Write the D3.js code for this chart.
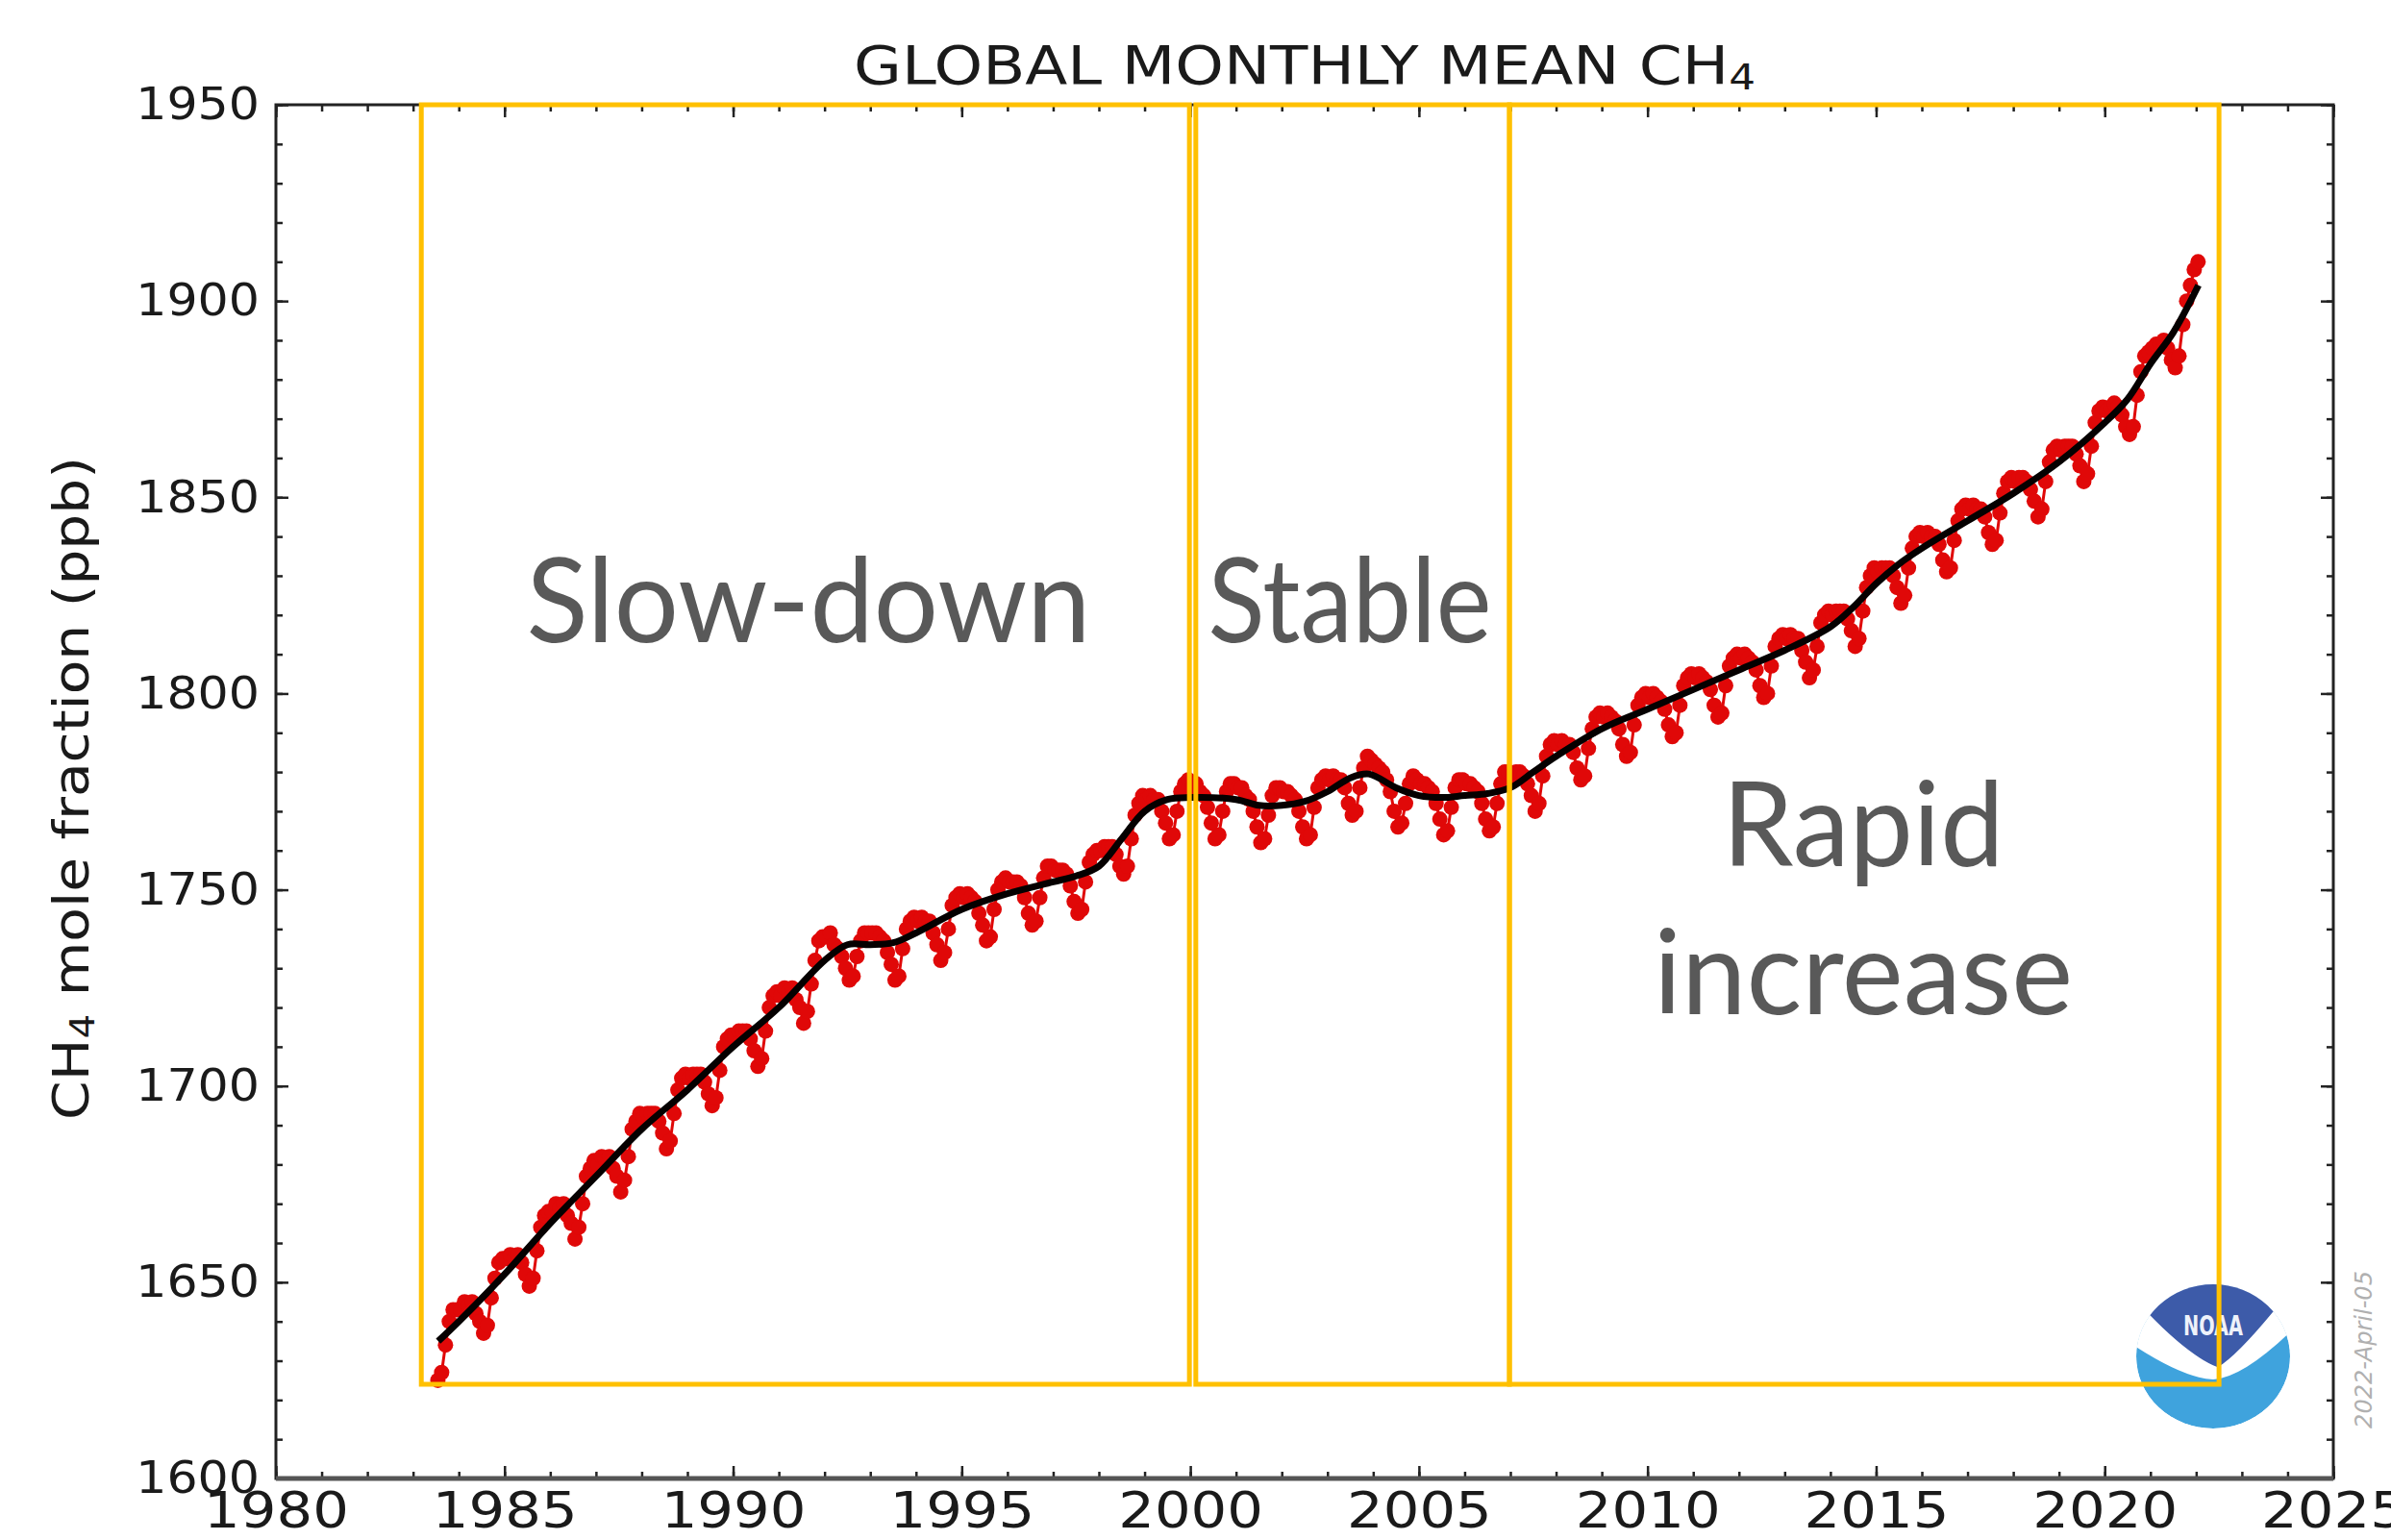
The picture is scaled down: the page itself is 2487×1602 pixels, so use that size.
<!DOCTYPE html>
<html><head><meta charset="utf-8">
<script src="https://cdn.jsdelivr.net/npm/d3@7"></script>
<style>html,body{margin:0;padding:0;background:#fff;} svg{display:block;}</style>
</head><body>
<svg id="c" width="2487" height="1602"></svg>
<script>
// ---------------- DATA ----------------
const xTickYears = [1980,1985,1990,1995,2000,2005,2010,2015,2020,2025];
const yTickValues = [1600,1650,1700,1750,1800,1850,1900,1950];
const titleText = "GLOBAL MONTHLY MEAN CH";
const yLabelText = "mole fraction (ppb)";
const dateStamp = "2022-April-05";

// monthly global mean CH4 (ppb), starting July 1983
const monthlyStart = {year: 1983, month: 7};
const ch4Monthly = [
 1625,1627,1634,1640,1643,1643,                               // 1983 Jul-Dec
 1643,1645,1644,1645,1642,1640,1637,1639,1646,1651,1655,1656, // 1984
 1656,1657,1656,1657,1655,1652,1649,1651,1658,1664,1667,1668, // 1985
 1668,1670,1669,1670,1667,1665,1661,1664,1670,1677,1679,1681, // 1986
 1680,1682,1681,1682,1679,1677,1673,1676,1682,1689,1691,1693, // 1987
 1692,1693,1693,1693,1691,1688,1684,1686,1693,1699,1702,1703, // 1988
 1702,1703,1703,1703,1701,1698,1695,1697,1704,1710,1712,1713, // 1989
 1713,1714,1714,1714,1712,1709,1705,1707,1714,1720,1723,1724, // 1990
 1723,1725,1724,1725,1722,1720,1716,1719,1726,1732,1737,1738, // 1991
 1738,1739,1736,1735,1733,1730,1727,1728,1733,1737,1739,1739, // 1992
 1739,1739,1738,1737,1734,1731,1727,1728,1735,1740,1742,1743, // 1993
 1742,1743,1742,1742,1739,1736,1732,1734,1740,1746,1748,1749, // 1994
 1748,1749,1748,1747,1744,1741,1737,1738,1745,1750,1752,1753, // 1995
 1752,1752,1752,1751,1748,1744,1741,1742,1748,1753,1756,1756, // 1996
 1755,1755,1755,1754,1751,1747,1744,1745,1752,1757,1759,1760, // 1997
 1760,1761,1761,1761,1759,1756,1754,1756,1763,1769,1772,1774, // 1998
 1773,1774,1773,1773,1770,1767,1763,1764,1770,1775,1777,1778, // 1999
 1776,1777,1775,1774,1771,1767,1763,1764,1770,1775,1777,1777, // 2000
 1776,1776,1774,1773,1770,1766,1762,1763,1769,1774,1776,1776, // 2001
 1775,1775,1774,1773,1770,1766,1763,1764,1771,1776,1778,1779, // 2002
 1778,1779,1778,1778,1776,1772,1769,1770,1776,1781,1784,1783, // 2003
 1782,1781,1780,1778,1775,1770,1766,1767,1772,1777,1779,1778, // 2004
 1777,1777,1776,1775,1772,1768,1764,1765,1771,1776,1778,1778, // 2005
 1777,1777,1776,1775,1772,1768,1765,1766,1772,1777,1780,1780, // 2006
 1779,1780,1780,1779,1777,1774,1770,1772,1779,1784,1787,1788, // 2007
 1787,1788,1787,1787,1785,1781,1778,1779,1786,1791,1794,1795, // 2008
 1794,1795,1794,1793,1791,1787,1784,1785,1792,1797,1799,1800, // 2009
 1799,1800,1799,1798,1796,1792,1789,1790,1797,1802,1804,1805, // 2010
 1804,1805,1804,1803,1801,1797,1794,1795,1802,1807,1809,1810, // 2011
 1809,1810,1809,1808,1806,1802,1799,1800,1807,1812,1814,1815, // 2012
 1814,1815,1814,1814,1811,1808,1804,1806,1812,1818,1820,1821, // 2013
 1820,1821,1821,1821,1819,1816,1812,1814,1821,1827,1830,1832, // 2014
 1831,1832,1832,1832,1830,1827,1823,1825,1832,1837,1840,1841, // 2015
 1840,1841,1840,1840,1838,1834,1831,1832,1839,1844,1847,1848, // 2016
 1847,1848,1847,1847,1845,1841,1838,1839,1846,1851,1854,1855, // 2017
 1854,1855,1855,1854,1852,1849,1845,1847,1854,1859,1862,1863, // 2018
 1862,1863,1863,1863,1861,1858,1854,1856,1863,1869,1872,1873, // 2019
 1872,1873,1874,1873,1871,1868,1866,1868,1876,1882,1886,1887, // 2020
 1888,1889,1889,1890,1888,1885,1883,1886,1894,1900,1904,1908, // 2021
 1910                                                         // 2022 Jan
];

// long-term trend (black curve)
const trendYears = [1983.55,1984,1985,1986,1987,1988,1989,1990,1991,1992,1992.5,1993,1993.5,1994,1995,1996,1997,1997.5,1998,1998.5,1999,1999.5,2000,2001,2001.5,2002,2002.5,2003,2003.5,2003.9,2004.5,2005,2005.5,2006,2006.5,2007,2007.5,2008,2009,2010,2011,2012,2013,2014,2014.5,2015,2015.5,2016,2017,2018,2019,2020,2020.5,2021,2021.5,2022.05];
const trendValues = [1635,1640,1652,1665,1677,1689,1699,1710,1720,1732,1736,1736,1736.5,1739,1745,1749,1752,1753.5,1756,1763,1770,1773,1773.5,1773,1771.5,1771.5,1772.5,1775,1778.5,1779.5,1776,1774,1773.5,1774,1774.5,1776,1780,1784,1791,1796,1801,1806,1811,1817,1822,1828,1833,1837,1844,1851,1859,1869,1875,1884,1892,1904];

// annotated periods (orange boxes)
const periodLabels = [["Slow-down"], ["Stable"], ["Rapid", "increase"]];
const periodStart = [1983.18, 2000.12, 2006.98];
const periodEnd   = [1999.98, 2006.98, 2022.5];
const periodFloor = 1624;
const periodCeil  = 1950;

// ---------------- LAYOUT ----------------
const svg = d3.select("#c");
const M = {l: 287, r: 2427, t: 109, b: 1538};
const x = d3.scaleLinear().domain([1980, 2025]).range([M.l, M.r]);
const y = d3.scaleLinear().domain([1600, 1950]).range([M.b, M.t]);

const monthly = ch4Monthly.map((v, i) => {
  const mIdx = monthlyStart.month - 1 + i;
  return {t: monthlyStart.year + (mIdx + 0.5) / 12, v};
});
const trend = trendYears.map((t, i) => ({t, v: trendValues[i]}));

function stretch(sel, f) {
  sel.each(function () {
    const w = this.getComputedTextLength();
    d3.select(this).attr("textLength", w * f).attr("lengthAdjust", "spacingAndGlyphs");
  });
}

// ---------------- NOAA LOGO ----------------
const logo = svg.append("g").attr("transform", "translate(2302,1411)");
const RX = 80, RY = 75;
svg.append("defs").append("clipPath").attr("id", "logoclip")
  .append("ellipse").attr("cx", 0).attr("cy", 0).attr("rx", RX).attr("ry", RY);
const lg = logo.append("g").attr("clip-path", "url(#logoclip)");
lg.append("ellipse").attr("rx", RX).attr("ry", RY).attr("fill", "#3fa3dd");
const P = (a, b) => `${a * RX},${b * RY}`;
lg.append("path").attr("fill", "#ffffff")
  .attr("d", `M${P(-1.1,-0.2)} Q${P(-0.4,0.3)} ${P(0,0.32)} Q${P(0.4,0.3)} ${P(1.1,-0.44)} L${P(1.1,-1.2)} L${P(-1.1,-1.2)} Z`);
lg.append("path").attr("fill", "#3d5ba9")
  .attr("d", `M${P(-1.0,-1.2)} L${P(1.0,-1.2)} L${P(1.0,-0.75)} L${P(0.78,-0.62)} Q${P(0.3,0.0)} ${P(0.06,0.15)} Q${P(-0.3,0.0)} ${P(-0.82,-0.57)} L${P(-1.0,-0.7)} Z`);
logo.append("text").attr("x", 0).attr("y", -0.3 * RY)
  .attr("text-anchor", "middle").attr("fill", "#eef2fa")
  .style("font-family", "'DejaVu Sans Condensed','DejaVu Sans'").style("font-weight", "bold")
  .style("font-size", "29px").attr("textLength", 62).attr("lengthAdjust", "spacingAndGlyphs")
  .text("NOAA");

// ---------------- DATA MARKS ----------------
const plot = svg.append("g");
plot.append("path").datum(monthly)
  .attr("fill", "none").attr("stroke", "#e00808").attr("stroke-width", 3)
  .attr("d", d3.line().x(d => x(d.t)).y(d => y(d.v)));
plot.selectAll("circle.m").data(monthly).join("circle").attr("class", "m")
  .attr("cx", d => x(d.t)).attr("cy", d => y(d.v)).attr("r", 8)
  .attr("fill", "#e00808");
plot.append("path").datum(trend)
  .attr("fill", "none").attr("stroke", "#050000").attr("stroke-width", 7).attr("stroke-linejoin", "round")
  .attr("d", d3.line().x(d => x(d.t)).y(d => y(d.v)).curve(d3.curveCatmullRom.alpha(0.5)));

// ---------------- AXES ----------------
const axCol = "#222";
const xMinor = d3.range(1980, 2026, 1);
const yMinor = d3.range(1600, 1951, 10);
function styleAxis(g) {
  g.select(".domain").remove();
  g.selectAll(".tick line").attr("stroke", axCol).attr("stroke-width", 2.5);
}
// minor ticks
svg.append("g").attr("transform", `translate(0,${M.b})`).call(d3.axisBottom(x).tickValues(xMinor).tickSize(-7).tickFormat("")).call(styleAxis);
svg.append("g").attr("transform", `translate(0,${M.t})`).call(d3.axisTop(x).tickValues(xMinor).tickSize(-7).tickFormat("")).call(styleAxis);
svg.append("g").attr("transform", `translate(${M.l},0)`).call(d3.axisLeft(y).tickValues(yMinor).tickSize(-7).tickFormat("")).call(styleAxis);
svg.append("g").attr("transform", `translate(${M.r},0)`).call(d3.axisRight(y).tickValues(yMinor).tickSize(-7).tickFormat("")).call(styleAxis);
// major ticks
const xb = svg.append("g").attr("transform", `translate(0,${M.b})`)
  .call(d3.axisBottom(x).tickValues(xTickYears).tickSize(-13).tickPadding(14).tickFormat(d3.format("d"))).call(styleAxis);
svg.append("g").attr("transform", `translate(0,${M.t})`).call(d3.axisTop(x).tickValues(xTickYears).tickSize(-13).tickFormat("")).call(styleAxis);
const yl = svg.append("g").attr("transform", `translate(${M.l},0)`)
  .call(d3.axisLeft(y).tickValues(yTickValues).tickSize(-13).tickPadding(17).tickFormat(d3.format("d"))).call(styleAxis);
svg.append("g").attr("transform", `translate(${M.r},0)`).call(d3.axisRight(y).tickValues(yTickValues).tickSize(-13).tickFormat("")).call(styleAxis);

xb.selectAll("text").attr("fill", "#1a1a1a").style("font-family", "'DejaVu Sans'").style("font-size", "52px").call(stretch, 1.14);
yl.selectAll("text").attr("fill", "#1a1a1a").style("font-family", "'DejaVu Sans'").style("font-size", "46px").call(stretch, 1.1);

// frame
svg.append("rect").attr("x", M.l).attr("y", M.t).attr("width", M.r - M.l).attr("height", M.b - M.t)
  .attr("fill", "none").attr("stroke", "#222").attr("stroke-width", 3);
svg.append("line").attr("x1", M.l).attr("x2", M.r).attr("y1", M.b).attr("y2", M.b)
  .attr("stroke", "#555").attr("stroke-width", 5);

// ---------------- ORANGE PERIOD BOXES ----------------
const boxes = svg.append("g");
periodStart.forEach((s, i) => {
  boxes.append("rect")
    .attr("x", x(s)).attr("y", y(periodCeil))
    .attr("width", x(periodEnd[i]) - x(s)).attr("height", y(periodFloor) - y(periodCeil))
    .attr("fill", "none").attr("stroke", "#ffc000").attr("stroke-width", 5);
});

// ---------------- ANNOTATION TEXT ----------------
const annot = svg.append("g").style("font-family", "Lato, 'Open Sans', sans-serif").attr("fill", "#595959").style("font-size", "122px");
const annPos = [
  {cx: 841, base: [668], widths: [587]},
  {cx: 1404, base: [668], widths: [295]},
  {cx: 1938, base: [901, 1055], widths: [293, 436]}
];
periodLabels.forEach((lines, i) => {
  lines.forEach((txt, j) => {
    annot.append("text").attr("x", annPos[i].cx).attr("y", annPos[i].base[j])
      .attr("text-anchor", "middle")
      .attr("textLength", annPos[i].widths[j]).attr("lengthAdjust", "spacingAndGlyphs")
      .text(txt);
  });
});

// ---------------- TITLE / LABELS ----------------
const title = svg.append("text")
  .attr("transform", `translate(${(M.l + M.r) / 2},87) scale(1.15,1)`)
  .attr("text-anchor", "middle").attr("fill", "#1a1a1a")
  .style("font-family", "'DejaVu Sans'").style("font-size", "56px");
title.append("tspan").text(titleText);
title.append("tspan").attr("dy", 6).style("font-size", "38px").text("4");

const ylab = svg.append("text")
  .attr("transform", `translate(92,820) rotate(-90)`)
  .attr("text-anchor", "middle").attr("fill", "#1a1a1a")
  .style("font-family", "'DejaVu Sans'").style("font-size", "52px")
  .attr("textLength", 690).attr("lengthAdjust", "spacingAndGlyphs");
ylab.append("tspan").text("CH");
ylab.append("tspan").attr("dy", 6).style("font-size", "36px").text("4");
ylab.append("tspan").attr("dy", -6).text(" " + yLabelText);

svg.append("text")
  .attr("transform", `translate(2467,1404) rotate(-90)`)
  .attr("text-anchor", "middle").attr("fill", "#b0b0b0")
  .style("font-family", "'DejaVu Sans'").style("font-style", "italic").style("font-size", "24px")
  .text(dateStamp);
</script>
</body></html>
